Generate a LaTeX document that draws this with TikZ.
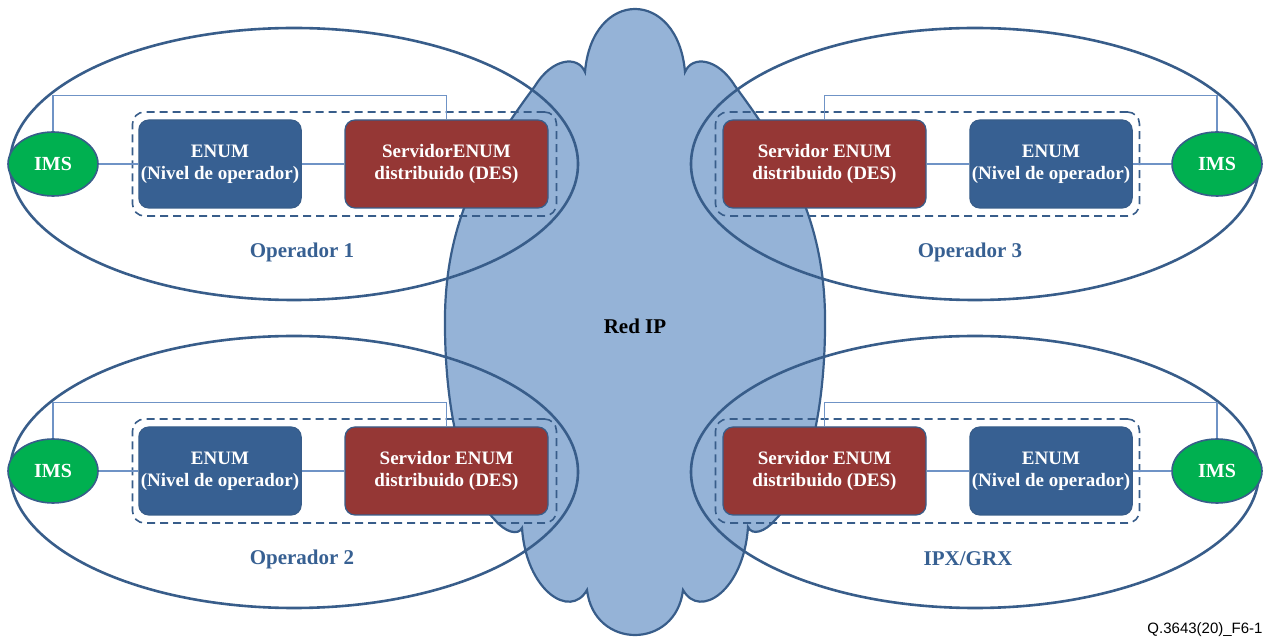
\documentclass[tikz,border=0pt]{standalone}
\usepackage{fontspec}
\setmainfont{Liberation Serif}
\newfontfamily\capfont{Liberation Sans}
\usetikzlibrary{shapes.geometric}
\definecolor{cloudfill}{HTML}{95B3D7}
\definecolor{darkline}{HTML}{385D8A}
\definecolor{enumblue}{HTML}{376092}
\definecolor{desred}{HTML}{953735}
\definecolor{imsgreen}{HTML}{00B050}
\definecolor{linkblue}{HTML}{6F93C6}

\begin{document}
\begin{tikzpicture}[x=0.5pt, y=-0.5pt,
  ims/.style = {draw=darkline, line width=0.8pt, fill=imsgreen, ellipse, minimum width=45pt, minimum height=32pt, inner sep=0pt, text=white, font=\bfseries\fontsize{10}{12}\selectfont},
  enum/.style = {draw=darkline, line width=0.6pt, fill=enumblue, rounded corners=5pt, minimum width=80pt, minimum height=44pt, inner sep=1pt, align=center, text=white, font=\bfseries\fontsize{9.5}{11}\selectfont},
  des/.style = {enum, fill=desred, minimum width=101.5pt},
  grp/.style = {draw=darkline, line width=0.8pt, dash pattern=on 4pt off 2.5pt, rounded corners=6pt, minimum width=212pt, minimum height=52pt, inner sep=0pt},
  oplabel/.style = {text=enumblue, font=\bfseries\fontsize{10.5}{12}\selectfont},
  link/.style = {draw=linkblue, line width=0.6pt},
  zone/.style = {draw=darkline, line width=1.3pt}]
\useasboundingbox (0,0) rectangle (1263,640);

% red IP cloud
\draw[darkline, line width=1.1pt, fill=cloudfill] (585,72)
  .. controls (592,-12) and (678,-12) .. (685,72)
  .. controls (692,55) and (718,58) .. (735,86)
  .. controls (790,160) and (827,225) .. (825,330)
  .. controls (824,420) and (805,490) .. (775,520)
  .. controls (765,532) and (752,536) .. (748,527)
  .. controls (744,590) and (700,620) .. (683,590)
  .. controls (676,650) and (594,650) .. (587,590)
  .. controls (570,620) and (526,590) .. (522,528)
  .. controls (518,536) and (505,532) .. (495,520)
  .. controls (465,490) and (446,420) .. (445,330)
  .. controls (443,225) and (480,160) .. (535,86)
  .. controls (552,58) and (578,55) .. (585,72) -- cycle;
\node (red) at (635,326) {\bfseries\fontsize{10.5}{12}\selectfont Red IP};

% operator zones
\draw[zone] (294,164) ellipse [x radius=142pt, y radius=68pt];
\draw[zone] (975,164) ellipse [x radius=142pt, y radius=68pt];
\draw[zone] (294,472) ellipse [x radius=142pt, y radius=68pt];
\draw[zone] (975,472) ellipse [x radius=142pt, y radius=68pt];

% Operador 1
\node[grp] (grp1) at (344.5,164) {};
\node[ims] (ims1) at (53,164) {IMS};
\node[enum] (enum1) at (220,164) {ENUM\\(Nivel de operador)};
\node[des] (des1) at (446.5,164) {ServidorENUM\\distribuido (DES)};
\node[oplabel] (op1) at (302,252) {Operador 1};
\draw[link] (ims1) -- (enum1);
\draw[link] (enum1) -- (des1);
\draw[link] (ims1.north) -- ++(0,-36) -| (des1.north);

% Operador 3
\node[grp] (grp3) at (927.5,164) {};
\node[des] (des3) at (824.5,164) {Servidor ENUM\\distribuido (DES)};
\node[enum] (enum3) at (1051,164) {ENUM\\(Nivel de operador)};
\node[ims] (ims3) at (1217,164) {IMS};
\node[oplabel] (op3) at (970,252) {Operador 3};
\draw[link] (des3) -- (enum3);
\draw[link] (enum3) -- (ims3);
\draw[link] (des3.north) -- ++(0,-24) -| (ims3.north);

% Operador 2
\node[grp] (grp2) at (344.5,471) {};
\node[ims] (ims2) at (53,471) {IMS};
\node[enum] (enum2) at (220,471) {ENUM\\(Nivel de operador)};
\node[des] (des2) at (446.5,471) {Servidor ENUM\\distribuido (DES)};
\node[oplabel] (op2) at (302,559) {Operador 2};
\draw[link] (ims2) -- (enum2);
\draw[link] (enum2) -- (des2);
\draw[link] (ims2.north) -- ++(0,-36) -| (des2.north);

% IPX/GRX
\node[grp] (grp4) at (927.5,471) {};
\node[des] (des4) at (824.5,471) {Servidor ENUM\\distribuido (DES)};
\node[enum] (enum4) at (1051,471) {ENUM\\(Nivel de operador)};
\node[ims] (ims4) at (1217,471) {IMS};
\node[oplabel] (op4) at (968,559) {IPX/GRX};
\draw[link] (des4) -- (enum4);
\draw[link] (enum4) -- (ims4);
\draw[link] (des4.north) -- ++(0,-24) -| (ims4.north);

\node[font=\capfont\fontsize{7.5}{9}\selectfont] (ref) at (1205,630) {Q.3643(20)\_F6-1};
\end{tikzpicture}
\end{document}
